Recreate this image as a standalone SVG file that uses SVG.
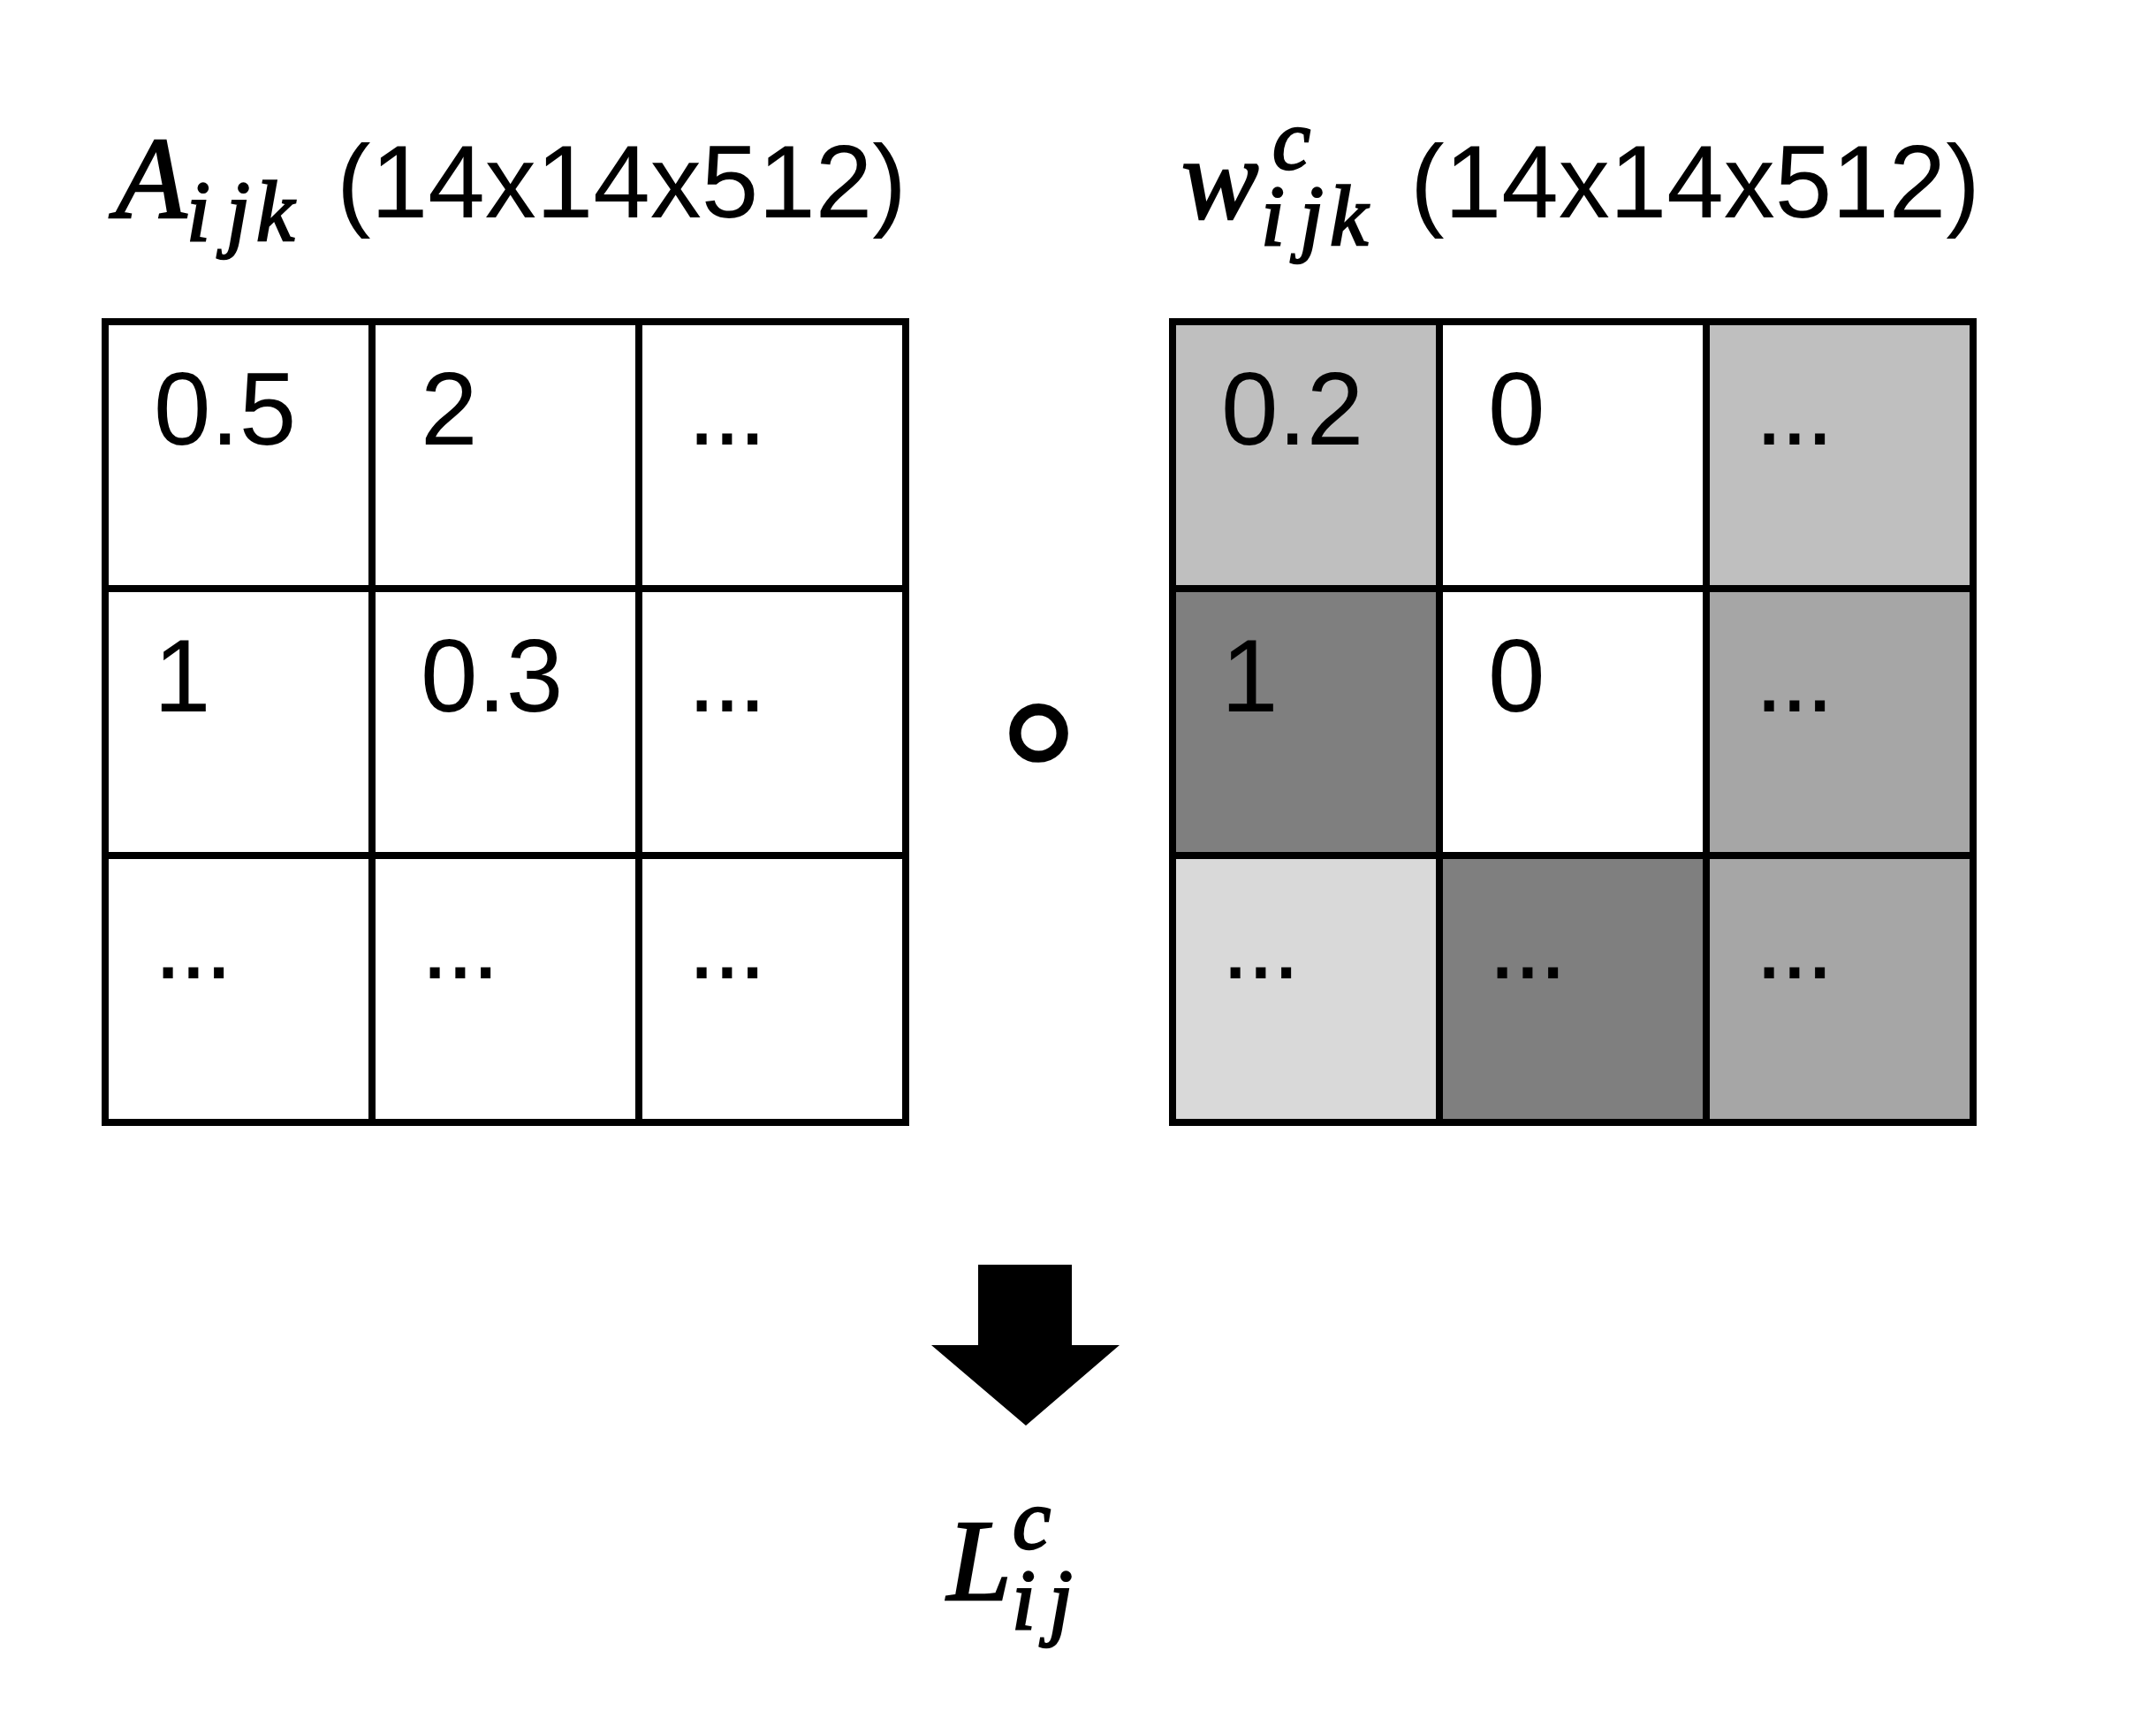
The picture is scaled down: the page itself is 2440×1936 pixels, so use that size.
<svg xmlns="http://www.w3.org/2000/svg" width="2440" height="1936" viewBox="0 0 2440 1936">
<style>
.num{font-family:"Liberation Sans",Arial,sans-serif;font-size:116px;fill:#000}
.dots{letter-spacing:-3.5px}
.m{font-family:"Liberation Serif","Times New Roman",serif;font-style:italic;fill:#000;stroke:#000;stroke-width:2.5}
.mi{font-size:131px}
.ms{font-size:97px}
.cell{stroke:#000;stroke-width:8}
.w{fill:#fff}.g1{fill:#bfbfbf}.g2{fill:#7f7f7f}.g3{fill:#a6a6a6}.g4{fill:#d9d9d9}
</style>
<rect width="2440" height="1936" fill="#fff"/>
<g id="title-a">
<text class="m"><tspan class="mi" x="131" y="246">A</tspan><tspan class="ms" x="211" y="272">i</tspan><tspan class="ms" x="256" y="272">j</tspan><tspan class="ms" x="290" y="272">k</tspan></text>
<text class="num" x="381" y="246">(14x14x512)</text>
</g>
<g id="title-w">
<text class="m"><tspan class="mi" x="1337" y="247">w</tspan><tspan class="ms" x="1440" y="191">c</tspan><tspan class="ms" x="1427" y="277">i</tspan><tspan class="ms" x="1471" y="277">j</tspan><tspan class="ms" x="1505" y="277">k</tspan></text>
<text class="num" x="1596" y="246">(14x14x512)</text>
</g>
<g id="grid-a">
<g id="a-r1c1"><rect class="cell w" x="119" y="364" width="302" height="302"/><text class="num" x="174" y="503">0.5</text></g>
<g id="a-r1c2"><rect class="cell w" x="421" y="364" width="302" height="302"/><text class="num" x="476" y="503">2</text></g>
<g id="a-r1c3"><rect class="cell w" x="723" y="364" width="302" height="302"/><text class="num dots" x="778" y="503">...</text></g>
<g id="a-r2c1"><rect class="cell w" x="119" y="666" width="302" height="302"/><text class="num" x="174" y="805">1</text></g>
<g id="a-r2c2"><rect class="cell w" x="421" y="666" width="302" height="302"/><text class="num" x="476" y="805">0.3</text></g>
<g id="a-r2c3"><rect class="cell w" x="723" y="666" width="302" height="302"/><text class="num dots" x="778" y="805">...</text></g>
<g id="a-r3c1"><rect class="cell w" x="119" y="968" width="302" height="302"/><text class="num dots" x="174" y="1107">...</text></g>
<g id="a-r3c2"><rect class="cell w" x="421" y="968" width="302" height="302"/><text class="num dots" x="476" y="1107">...</text></g>
<g id="a-r3c3"><rect class="cell w" x="723" y="968" width="302" height="302"/><text class="num dots" x="778" y="1107">...</text></g>
</g>
<g id="grid-w">
<g id="w-r1c1"><rect class="cell g1" x="1327" y="364" width="302" height="302"/><text class="num" x="1382" y="503">0.2</text></g>
<g id="w-r1c2"><rect class="cell w" x="1629" y="364" width="302" height="302"/><text class="num" x="1684" y="503">0</text></g>
<g id="w-r1c3"><rect class="cell g1" x="1931" y="364" width="302" height="302"/><text class="num dots" x="1986" y="503">...</text></g>
<g id="w-r2c1"><rect class="cell g2" x="1327" y="666" width="302" height="302"/><text class="num" x="1382" y="805">1</text></g>
<g id="w-r2c2"><rect class="cell w" x="1629" y="666" width="302" height="302"/><text class="num" x="1684" y="805">0</text></g>
<g id="w-r2c3"><rect class="cell g3" x="1931" y="666" width="302" height="302"/><text class="num dots" x="1986" y="805">...</text></g>
<g id="w-r3c1"><rect class="cell g4" x="1327" y="968" width="302" height="302"/><text class="num dots" x="1382" y="1107">...</text></g>
<g id="w-r3c2"><rect class="cell g2" x="1629" y="968" width="302" height="302"/><text class="num dots" x="1684" y="1107">...</text></g>
<g id="w-r3c3"><rect class="cell g3" x="1931" y="968" width="302" height="302"/><text class="num dots" x="1986" y="1107">...</text></g>
</g>
<g id="operator">
<text x="1175.5" y="897" text-anchor="middle" style="font-family:'DejaVu Sans',sans-serif;font-size:215px;fill:#000">∘</text>
</g>
<g id="connectors">
<polygon points="1107,1431 1213,1431 1213,1522 1267,1522 1161,1613 1054,1522 1107,1522" fill="#000"/>
</g>
<g id="label-l">
<text class="m"><tspan class="mi" x="1072" y="1810">L</tspan><tspan class="ms" x="1146" y="1752">c</tspan><tspan class="ms" x="1145" y="1843">i</tspan><tspan class="ms" x="1187" y="1843">j</tspan></text>
</g>
</svg>
